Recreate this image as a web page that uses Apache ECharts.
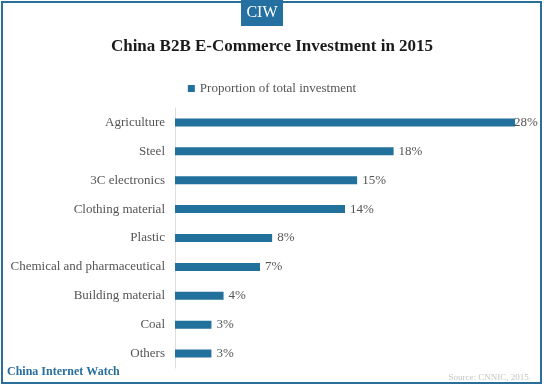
<!DOCTYPE html>
<html><head><meta charset="utf-8">
<script src="https://cdn.jsdelivr.net/npm/echarts@6/dist/echarts.min.js"></script>
<style>html,body{margin:0;padding:0;background:#fff}#c{width:544px;height:388px}</style>
</head><body><div id="c"></div>
<script>
var categories = ["Agriculture","Steel","3C electronics","Clothing material","Plastic","Chemical and pharmaceutical","Building material","Coal","Others"];
var values = [28,18,15,14,8,7,4,3,3];
var seriesName = "Proportion of total investment";
var F = "'Liberation Serif', 'DejaVu Serif', serif";
var blue = "#22709c";
var chart = echarts.init(document.getElementById('c'));
chart.setOption({
  animation:false,
  backgroundColor:'#fff',
  title:{text:'China B2B E-Commerce Investment in 2015',left:'center',top:33,
    textStyle:{fontFamily:F,fontSize:17,fontWeight:'bold',color:'#1a1a1a'}},
  legend:{data:[seriesName],top:77,left:'center',itemWidth:7,itemHeight:7,itemGap:4,icon:'rect',
    textStyle:{fontFamily:F,fontSize:13,color:'#555'}},
  grid:{left:175,top:108,width:340,height:260,containLabel:false},
  xAxis:{type:'value',min:0,max:28,show:false},
  yAxis:{type:'category',inverse:true,data:categories,
    axisLine:{show:true,lineStyle:{color:'#ddd'}},axisTick:{show:false},
    axisLabel:{fontFamily:F,fontSize:13,color:'#555',margin:10}},
  series:[{name:seriesName,type:'bar',barWidth:8,itemStyle:{color:blue},
    data:values.map(function(v,i){return i===0?{value:v,label:{distance:-1}}:v;}),
    label:{show:true,position:'right',distance:5,formatter:'{c}%',fontFamily:F,fontSize:13,color:'#555'}}],
  graphic:[
    {type:'rect',shape:{x:2,y:2,width:539,height:381},style:{fill:'none',stroke:'#2a6f9a',lineWidth:2},z:10},
    {type:'rect',shape:{x:241,y:0,width:42,height:26},style:{fill:'#2470a0'},z:11},
    {type:'text',x:262,y:13,style:{text:'CIW',fill:'#fff',font:"16px "+F,textAlign:'center',textVerticalAlign:'middle'},z:12},
    {type:'text',x:7,y:372,style:{text:'China Internet Watch',fill:'#2a6f9a',font:"bold 12px "+F,textVerticalAlign:'middle'},z:12},
    {type:'text',x:531,y:378,style:{text:'Source: CNNIC, 2015.',fill:'#c4c4c4',font:"9px "+F,textAlign:'right',textVerticalAlign:'middle'},z:12}
  ]
});
</script></body></html>
